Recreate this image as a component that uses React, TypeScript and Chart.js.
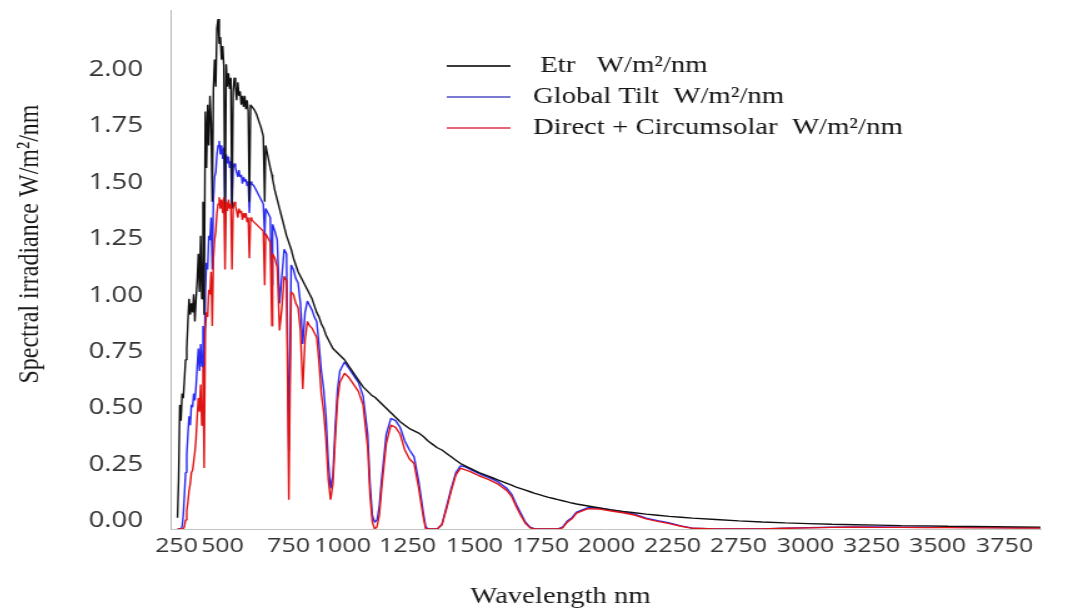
import React, { useEffect, useRef } from "react";
import { Chart, registerables } from "chart.js";

Chart.register(...registerables);

// Wavelength grid (nm)
const wavelengthNm = [
  // 280-600 step 5
  280, 285, 290, 295, 300, 305, 310, 315, 320, 325,
  330, 335, 340, 345, 350, 355, 360, 365, 370, 375,
  380, 385, 390, 395, 400, 405, 410, 415, 420, 425,
  430, 435, 440, 445, 450, 455, 460, 465, 470, 475,
  480, 485, 490, 495, 500, 505, 510, 515, 520, 525,
  530, 535, 540, 545, 550, 555, 560, 565, 570, 575,
  580, 585, 590, 595, 600,
  // 610-1000
  610, 620, 630, 640, 650,
  656, 660, 670, 680, 687,
  690, 700, 710, 720, 730, 740, 750, 760, 770, 780,
  790, 800, 810, 820, 830, 840, 850, 860, 870, 880,
  890, 900, 910, 920, 930, 940, 950, 960, 970, 980,
  990, 1000,
  // 1020-1400
  1020, 1040, 1060, 1080, 1100, 1110, 1120, 1130, 1140, 1150,
  1160, 1180, 1200, 1220, 1240, 1260, 1280, 1300, 1320, 1340,
  1350, 1360, 1380, 1400,
  // 1420-2000
  1420, 1440, 1460, 1480, 1500, 1520, 1540, 1560, 1580, 1600,
  1620, 1640, 1660, 1680, 1700, 1720, 1740, 1760, 1780, 1800,
  1820, 1840, 1860, 1880, 1900, 1920, 1940, 1960, 1980, 2000,
  // 2050-2500
  2050, 2100, 2150, 2200, 2250, 2300, 2350, 2400, 2450, 2500,
  // 2600-4000
  2600, 2700, 2800, 2900, 3000, 3100, 3200, 3300, 3400, 3500,
  3600, 3700, 3800, 3900, 4000,
];

const etrValues = [
  0.05, 0.22, 0.55, 0.48, 0.60, 0.58, 0.66, 0.75, 0.80, 0.92,
  1.02, 0.95, 1.00, 0.96, 1.04, 0.92, 1.02, 1.10, 1.22, 1.05,
  1.30, 1.02, 1.45, 0.95, 1.85, 1.60, 1.88, 1.70, 1.92, 1.80,
  1.45, 1.95, 2.08, 1.96, 2.22, 2.26, 2.15, 2.18, 2.08, 2.14,
  2.05, 1.38, 2.06, 1.96, 2.02, 1.95, 2.00, 1.42, 1.94, 2.00,
  1.96, 1.90, 1.98, 1.92, 1.94, 1.88, 1.92, 1.87, 1.92, 1.86,
  1.90, 1.85, 1.45, 1.88, 1.88,
  1.86, 1.84, 1.81, 1.78, 1.74,
  1.45, 1.70, 1.65, 1.60, 1.57,
  1.55, 1.50, 1.46, 1.42, 1.38, 1.34, 1.30, 1.27, 1.24, 1.20,
  1.17, 1.14, 1.12, 1.10, 1.08, 1.06, 1.04, 1.02, 0.99, 0.96,
  0.94, 0.91, 0.89, 0.86, 0.84, 0.82, 0.80, 0.79, 0.78, 0.77,
  0.76, 0.75,
  0.72, 0.69, 0.66, 0.63, 0.61, 0.60, 0.59, 0.585, 0.575, 0.565,
  0.555, 0.535, 0.515, 0.495, 0.475, 0.46, 0.445, 0.435, 0.425, 0.41,
  0.40, 0.39, 0.375, 0.36,
  0.35, 0.335, 0.32, 0.305, 0.29, 0.28, 0.27, 0.26, 0.25, 0.242,
  0.234, 0.226, 0.218, 0.21, 0.202, 0.194, 0.186, 0.179, 0.172, 0.165,
  0.158, 0.152, 0.146, 0.14, 0.135, 0.13, 0.125, 0.12, 0.115, 0.111,
  0.102, 0.093, 0.085, 0.078, 0.072, 0.066, 0.061, 0.056, 0.052, 0.048,
  0.042, 0.036, 0.031, 0.027, 0.024, 0.021, 0.019, 0.017, 0.015, 0.014,
  0.012, 0.011, 0.010, 0.009, 0.008,
];

const globalTiltValues = [
  0, 0, 0, 0.002, 0.01, 0.06, 0.15, 0.25, 0.33, 0.42,
  0.50, 0.46, 0.55, 0.54, 0.60, 0.57, 0.63, 0.72, 0.80, 0.70,
  0.82, 0.72, 0.90, 0.66, 1.05, 1.18, 1.15, 1.30, 1.28, 1.38,
  1.15, 1.46, 1.56, 1.58, 1.66, 1.70, 1.72, 1.66, 1.70, 1.64,
  1.69, 1.40, 1.66, 1.62, 1.65, 1.60, 1.63, 1.42, 1.60, 1.62,
  1.60, 1.58, 1.56, 1.59, 1.56, 1.57, 1.53, 1.56, 1.54, 1.55,
  1.52, 1.54, 1.40, 1.54, 1.53,
  1.52, 1.50, 1.48, 1.46, 1.44,
  1.30, 1.42, 1.40, 1.38, 1.08,
  1.35, 1.32, 1.28, 1.00, 1.12, 1.24, 1.22, 0.35, 1.17, 1.15,
  1.11, 1.09, 1.00, 0.82, 0.96, 1.01, 0.99, 0.97, 0.94, 0.92,
  0.82, 0.70, 0.62, 0.50, 0.30, 0.18, 0.24, 0.45, 0.62, 0.70,
  0.72, 0.74,
  0.71, 0.68, 0.65, 0.59, 0.42, 0.20, 0.06, 0.03, 0.04, 0.10,
  0.22, 0.42, 0.49, 0.48, 0.45, 0.39, 0.35, 0.32, 0.21, 0.07,
  0.01, 0, 0, 0,
  0.02, 0.10, 0.18, 0.25, 0.28, 0.275, 0.265, 0.255, 0.245, 0.237,
  0.229, 0.22, 0.21, 0.195, 0.18, 0.155, 0.11, 0.07, 0.03, 0.008,
  0, 0, 0, 0, 0, 0, 0.008, 0.035, 0.05, 0.075,
  0.095, 0.092, 0.084, 0.076, 0.066, 0.048, 0.037, 0.027, 0.014, 0.004,
  0, 0, 0, 0.004, 0.006, 0.008, 0.009, 0.009, 0.008, 0.008,
  0.007, 0.007, 0.006, 0.006, 0.005,
];

const directCircumsolarValues = [
  0, 0, 0, 0, 0, 0, 0.01, 0.04, 0.08, 0.12,
  0.17, 0.20, 0.25, 0.26, 0.30, 0.34, 0.40, 0.50, 0.58, 0.52,
  0.64, 0.46, 0.72, 0.27, 0.88, 0.96, 0.94, 1.06, 1.04, 1.14,
  0.90, 1.20, 1.28, 1.32, 1.40, 1.44, 1.47, 1.42, 1.46, 1.40,
  1.47, 1.15, 1.45, 1.41, 1.46, 1.42, 1.44, 1.15, 1.42, 1.45,
  1.43, 1.41, 1.38, 1.42, 1.40, 1.41, 1.37, 1.40, 1.38, 1.40,
  1.36, 1.38, 1.20, 1.38, 1.37,
  1.36, 1.35, 1.34, 1.33, 1.32,
  1.08, 1.31, 1.29, 1.27, 0.90,
  1.22, 1.20, 1.16, 0.88, 0.98, 1.12, 1.10, 0.13, 1.05, 1.04,
  1.00, 0.98, 0.88, 0.62, 0.84, 0.92, 0.90, 0.89, 0.87, 0.85,
  0.74, 0.60, 0.52, 0.40, 0.22, 0.13, 0.20, 0.40, 0.57, 0.65,
  0.67, 0.69,
  0.67, 0.64, 0.61, 0.55, 0.36, 0.15, 0.03, 0, 0.01, 0.06,
  0.18, 0.38, 0.46, 0.45, 0.42, 0.35, 0.31, 0.29, 0.18, 0.05,
  0, 0, 0, 0,
  0.02, 0.09, 0.17, 0.24, 0.27, 0.262, 0.255, 0.245, 0.236, 0.228,
  0.22, 0.21, 0.20, 0.185, 0.17, 0.145, 0.10, 0.06, 0.025, 0.005,
  0, 0, 0, 0, 0, 0, 0.005, 0.03, 0.045, 0.07,
  0.09, 0.088, 0.08, 0.072, 0.062, 0.045, 0.034, 0.024, 0.012, 0.003,
  0, 0, 0, 0.003, 0.005, 0.007, 0.008, 0.007, 0.007, 0.006,
  0.006, 0.005, 0.005, 0.004, 0.004,
];

const seriesLabels = [
  " Etr   W/m²/nm",
  "Global Tilt  W/m²/nm",
  "Direct + Circumsolar  W/m²/nm",
];
const seriesColors = ["#111111", "#2b2bf0", "#e01414"];
const legendColors = ["#3a3a3a", "#7a7ad2", "#e8627a"];

const yTickValues = [0, 0.25, 0.5, 0.75, 1.0, 1.25, 1.5, 1.75, 2.0];
const xTickLabels = [
  "250", "500", "750", "1000", "1250", "1500", "1750",
  "2000", "2250", "2750", "3000", "3250", "3500", "3750",
];
// where each printed label sits along the wavelength scale in the picture
const xTickAtNm = [276, 474, 759, 991, 1272, 1560, 1845, 2129, 2414, 2698, 2987, 3272, 3556, 3845];

const yTitle = "Spectral irradiance W/m²/nm";
const xTitle = "Wavelength nm";

const STRETCH = 1.25;
const CW = 840;
const CH = 600;

const toPoints = (vals: number[]) =>
  vals.slice(0, wavelengthNm.length).map((v, i) => ({ x: wavelengthNm[i], y: v }));

const decorPlugin = {
  id: "decor",
  afterDraw(chart: any) {
    const ctx = chart.ctx as CanvasRenderingContext2D;
    // y title
    ctx.save();
    ctx.fillStyle = "#1a1a1a";
    ctx.font = '24px "Liberation Serif"';
    ctx.textAlign = "center";
    ctx.textBaseline = "middle";
    ctx.translate(18, 236);
    ctx.rotate(-Math.PI / 2);
    ctx.fillText(yTitle, 0, 0);
    ctx.restore();
    // x title
    ctx.save();
    ctx.fillStyle = "#1a1a1a";
    ctx.font = '23px "Liberation Serif"';
    ctx.textAlign = "center";
    ctx.textBaseline = "middle";
    ctx.fillText(xTitle, 442, 589);
    ctx.restore();
    // legend
    const rows = [58, 89, 120];
    ctx.save();
    ctx.font = '23px "Liberation Serif"';
    ctx.textAlign = "left";
    ctx.textBaseline = "middle";
    chart.data.datasets.forEach((ds: any, i: number) => {
      const y = rows[i];
      ctx.strokeStyle = legendColors[i];
      ctx.lineWidth = 2.2;
      ctx.beginPath();
      ctx.moveTo(351, y);
      ctx.lineTo(402, y);
      ctx.stroke();
      ctx.fillStyle = "#141414";
      ctx.fillText(ds.label, 420, y);
    });
    ctx.restore();
  },
};

export default function App() {
  const ref = useRef<HTMLCanvasElement | null>(null);

  useEffect(() => {
    if (!ref.current) return;
    const chart = new Chart(ref.current, {
      type: "line",
      data: {
        datasets: [
          {
            label: seriesLabels[0],
            data: toPoints(etrValues),
            borderColor: seriesColors[0],
            borderWidth: 1.4,
            pointRadius: 0,
            borderJoinStyle: "bevel",
            order: 2,
          },
          {
            label: seriesLabels[1],
            data: toPoints(globalTiltValues),
            borderColor: seriesColors[1],
            borderWidth: 1.4,
            pointRadius: 0,
            borderJoinStyle: "bevel",
            order: 3,
          },
          {
            label: seriesLabels[2],
            data: toPoints(directCircumsolarValues),
            borderColor: seriesColors[2],
            borderWidth: 1.4,
            pointRadius: 0,
            borderJoinStyle: "bevel",
            order: 1,
          },
        ],
      },
      options: {
        animation: false,
        responsive: true,
        maintainAspectRatio: false,
        layout: { padding: { top: 2, right: 14, left: 0, bottom: 0 } },
        plugins: {
          legend: { display: false },
          tooltip: { enabled: false },
          title: { display: false },
        },
        scales: {
          x: {
            type: "linear",
            min: 250,
            max: 4000,
            afterBuildTicks: (scale: any) => {
              scale.ticks = xTickAtNm.map((v) => ({ value: v }));
            },
            afterFit: (scale: any) => {
              scale.height = 79;
              scale.paddingLeft = 0;
              scale.paddingRight = 0;
            },
            ticks: {
              autoSkip: false,
              maxRotation: 0,
              minRotation: 0,
              padding: 5,
              color: "#333333",
              font: { family: "Open Sans", size: 20 },
              callback: (_v: any, i: number) => xTickLabels[i],
            },
            grid: {
              drawOnChartArea: false,
              drawTicks: false,
              color: "rgba(0,0,0,0)",
            },
            border: { display: true, color: "#c4c4c4", width: 1 },
          },
          y: {
            type: "linear",
            min: 0,
            max: 2.3,
            afterBuildTicks: (scale: any) => {
              scale.ticks = yTickValues.map((v) => ({ value: v }));
            },
            afterFit: (scale: any) => {
              scale.width = 130;
              scale.paddingTop = 0;
              scale.paddingBottom = 0;
            },
            ticks: {
              padding: 22,
              labelOffset: -8,
              color: "#333333",
              font: { family: "Open Sans", size: 22 },
              callback: (v: any) => Number(v).toFixed(2),
            },
            grid: {
              drawOnChartArea: false,
              drawTicks: false,
              color: "rgba(0,0,0,0)",
            },
            border: { display: true, color: "#b8b8b8", width: 1 },
          },
        },
      },
      plugins: [decorPlugin],
    } as any);
    return () => chart.destroy();
  }, []);

  return (
    <div
      style={{
        position: "relative",
        width: CW,
        height: CH,
        transform: `scaleX(${STRETCH})`,
        transformOrigin: "0 0",
      }}
    >
      <canvas ref={ref} />
    </div>
  );
}
